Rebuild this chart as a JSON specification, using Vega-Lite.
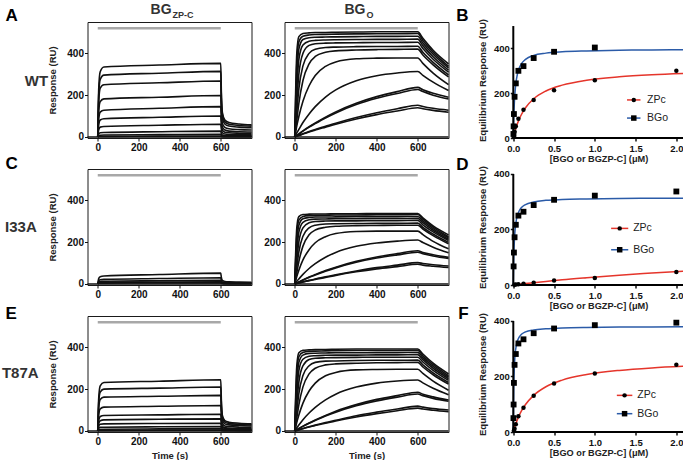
{
"$schema": "https://vega.github.io/schema/vega-lite/v6.json",
"padding": {"left": 0.5, "top": 2, "right": 0, "bottom": 0},
"background": "white",
"config": {
  "font": "Liberation Sans",
  "axis": {"labelFont": "Liberation Sans", "labelFontWeight": "bold", "labelFontSize": 10, "labelColor": "#111", "titleFont": "Liberation Sans", "titleFontWeight": "bold", "titleFontSize": 9.5, "titleColor": "#222", "tickColor": "#111", "domainColor": "#111", "grid": false, "tickSize": 3},
  "text": {"font": "Liberation Sans"}
},
"datasets": {
  "inj": [{"t0": 0, "t1": 600, "y": 520}],
  "base": [{"t0": -50, "t1": 750, "y": 0}],
  "zA": [
{"k":1,"t":0,"r":0},{"k":1,"t":5,"r":235},{"k":1,"t":12,"r":312},{"k":1,"t":30,"r":335},{"k":1,"t":300,"r":344},{"k":1,"t":600,"r":352},{"k":1,"t":603,"r":211},{"k":1,"t":608,"r":116},{"k":1,"t":620,"r":81},{"k":1,"t":640,"r":69},{"k":1,"t":690,"r":62},{"k":1,"t":750,"r":58},
{"k":2,"t":0,"r":0},{"k":2,"t":5,"r":207},{"k":2,"t":12,"r":275},{"k":2,"t":30,"r":296},{"k":2,"t":300,"r":305},{"k":2,"t":600,"r":314},{"k":2,"t":603,"r":188},{"k":2,"t":608,"r":104},{"k":2,"t":620,"r":72},{"k":2,"t":640,"r":61},{"k":2,"t":690,"r":55},{"k":2,"t":750,"r":52},
{"k":3,"t":0,"r":0},{"k":3,"t":5,"r":175},{"k":3,"t":12,"r":233},{"k":3,"t":30,"r":250},{"k":3,"t":300,"r":259},{"k":3,"t":600,"r":268},{"k":3,"t":603,"r":161},{"k":3,"t":608,"r":88},{"k":3,"t":620,"r":62},{"k":3,"t":640,"r":52},{"k":3,"t":690,"r":47},{"k":3,"t":750,"r":44},
{"k":4,"t":0,"r":0},{"k":4,"t":5,"r":127},{"k":4,"t":12,"r":169},{"k":4,"t":30,"r":182},{"k":4,"t":300,"r":190},{"k":4,"t":600,"r":198},{"k":4,"t":603,"r":119},{"k":4,"t":608,"r":65},{"k":4,"t":620,"r":46},{"k":4,"t":640,"r":39},{"k":4,"t":690,"r":35},{"k":4,"t":750,"r":33},
{"k":5,"t":0,"r":0},{"k":5,"t":5,"r":90},{"k":5,"t":12,"r":119},{"k":5,"t":30,"r":128},{"k":5,"t":300,"r":137},{"k":5,"t":600,"r":145},{"k":5,"t":603,"r":87},{"k":5,"t":608,"r":48},{"k":5,"t":620,"r":33},{"k":5,"t":640,"r":28},{"k":5,"t":690,"r":25},{"k":5,"t":750,"r":24},
{"k":6,"t":0,"r":0},{"k":6,"t":5,"r":61},{"k":6,"t":12,"r":81},{"k":6,"t":30,"r":87},{"k":6,"t":300,"r":94},{"k":6,"t":600,"r":100},{"k":6,"t":603,"r":60},{"k":6,"t":608,"r":33},{"k":6,"t":620,"r":23},{"k":6,"t":640,"r":20},{"k":6,"t":690,"r":18},{"k":6,"t":750,"r":17},
{"k":7,"t":0,"r":0},{"k":7,"t":5,"r":35},{"k":7,"t":12,"r":47},{"k":7,"t":30,"r":50},{"k":7,"t":300,"r":56},{"k":7,"t":600,"r":61},{"k":7,"t":603,"r":37},{"k":7,"t":608,"r":20},{"k":7,"t":620,"r":14},{"k":7,"t":640,"r":12},{"k":7,"t":690,"r":11},{"k":7,"t":750,"r":10},
{"k":8,"t":0,"r":0},{"k":8,"t":5,"r":15},{"k":8,"t":12,"r":20},{"k":8,"t":30,"r":21},{"k":8,"t":300,"r":25},{"k":8,"t":600,"r":28},{"k":8,"t":603,"r":17},{"k":8,"t":608,"r":9},{"k":8,"t":620,"r":6},{"k":8,"t":640,"r":5},{"k":8,"t":690,"r":5},{"k":8,"t":750,"r":5},
{"k":9,"t":0,"r":0},{"k":9,"t":5,"r":6},{"k":9,"t":12,"r":8},{"k":9,"t":30,"r":9},{"k":9,"t":300,"r":11},{"k":9,"t":600,"r":13},{"k":9,"t":603,"r":8},{"k":9,"t":608,"r":4},{"k":9,"t":620,"r":3},{"k":9,"t":640,"r":3},{"k":9,"t":690,"r":2},{"k":9,"t":750,"r":2},
{"k":10,"t":0,"r":0},{"k":10,"t":5,"r":2},{"k":10,"t":12,"r":3},{"k":10,"t":30,"r":3},{"k":10,"t":300,"r":4},{"k":10,"t":600,"r":4},{"k":10,"t":603,"r":2},{"k":10,"t":608,"r":1},{"k":10,"t":620,"r":1},{"k":10,"t":640,"r":1},{"k":10,"t":690,"r":1},{"k":10,"t":750,"r":1}
  ],
  "zC": [
{"k":1,"t":0,"r":0},{"k":1,"t":5,"r":27},{"k":1,"t":12,"r":35},{"k":1,"t":30,"r":38},{"k":1,"t":300,"r":45},{"k":1,"t":600,"r":52},{"k":1,"t":603,"r":31},{"k":1,"t":608,"r":17},{"k":1,"t":620,"r":12},{"k":1,"t":640,"r":10},{"k":1,"t":690,"r":9},{"k":1,"t":750,"r":8},
{"k":2,"t":0,"r":0},{"k":2,"t":5,"r":15},{"k":2,"t":12,"r":20},{"k":2,"t":30,"r":22},{"k":2,"t":300,"r":26},{"k":2,"t":600,"r":30},{"k":2,"t":603,"r":18},{"k":2,"t":608,"r":10},{"k":2,"t":620,"r":7},{"k":2,"t":640,"r":6},{"k":2,"t":690,"r":5},{"k":2,"t":750,"r":5},
{"k":3,"t":0,"r":0},{"k":3,"t":5,"r":9},{"k":3,"t":12,"r":12},{"k":3,"t":30,"r":13},{"k":3,"t":300,"r":15},{"k":3,"t":600,"r":17},{"k":3,"t":603,"r":10},{"k":3,"t":608,"r":6},{"k":3,"t":620,"r":4},{"k":3,"t":640,"r":3},{"k":3,"t":690,"r":3},{"k":3,"t":750,"r":3},
{"k":4,"t":0,"r":0},{"k":4,"t":5,"r":6},{"k":4,"t":12,"r":7},{"k":4,"t":30,"r":8},{"k":4,"t":300,"r":9},{"k":4,"t":600,"r":10},{"k":4,"t":603,"r":6},{"k":4,"t":608,"r":3},{"k":4,"t":620,"r":2},{"k":4,"t":640,"r":2},{"k":4,"t":690,"r":2},{"k":4,"t":750,"r":2},
{"k":5,"t":0,"r":0},{"k":5,"t":5,"r":3},{"k":5,"t":12,"r":4},{"k":5,"t":30,"r":4},{"k":5,"t":300,"r":5},{"k":5,"t":600,"r":5},{"k":5,"t":603,"r":3},{"k":5,"t":608,"r":2},{"k":5,"t":620,"r":1},{"k":5,"t":640,"r":1},{"k":5,"t":690,"r":1},{"k":5,"t":750,"r":1}
  ],
  "zE": [
{"k":1,"t":0,"r":0},{"k":1,"t":5,"r":162},{"k":1,"t":12,"r":216},{"k":1,"t":30,"r":232},{"k":1,"t":300,"r":238},{"k":1,"t":600,"r":245},{"k":1,"t":603,"r":147},{"k":1,"t":608,"r":74},{"k":1,"t":620,"r":49},{"k":1,"t":640,"r":42},{"k":1,"t":690,"r":37},{"k":1,"t":750,"r":34},
{"k":2,"t":0,"r":0},{"k":2,"t":5,"r":140},{"k":2,"t":12,"r":186},{"k":2,"t":30,"r":200},{"k":2,"t":300,"r":205},{"k":2,"t":600,"r":210},{"k":2,"t":603,"r":126},{"k":2,"t":608,"r":63},{"k":2,"t":620,"r":42},{"k":2,"t":640,"r":36},{"k":2,"t":690,"r":32},{"k":2,"t":750,"r":29},
{"k":3,"t":0,"r":0},{"k":3,"t":5,"r":113},{"k":3,"t":12,"r":151},{"k":3,"t":30,"r":162},{"k":3,"t":300,"r":166},{"k":3,"t":600,"r":170},{"k":3,"t":603,"r":102},{"k":3,"t":608,"r":51},{"k":3,"t":620,"r":34},{"k":3,"t":640,"r":29},{"k":3,"t":690,"r":26},{"k":3,"t":750,"r":24},
{"k":4,"t":0,"r":0},{"k":4,"t":5,"r":80},{"k":4,"t":12,"r":106},{"k":4,"t":30,"r":114},{"k":4,"t":300,"r":118},{"k":4,"t":600,"r":122},{"k":4,"t":603,"r":73},{"k":4,"t":608,"r":37},{"k":4,"t":620,"r":24},{"k":4,"t":640,"r":21},{"k":4,"t":690,"r":18},{"k":4,"t":750,"r":17},
{"k":5,"t":0,"r":0},{"k":5,"t":5,"r":52},{"k":5,"t":12,"r":69},{"k":5,"t":30,"r":74},{"k":5,"t":300,"r":77},{"k":5,"t":600,"r":80},{"k":5,"t":603,"r":48},{"k":5,"t":608,"r":24},{"k":5,"t":620,"r":16},{"k":5,"t":640,"r":14},{"k":5,"t":690,"r":12},{"k":5,"t":750,"r":11},
{"k":6,"t":0,"r":0},{"k":6,"t":5,"r":37},{"k":6,"t":12,"r":49},{"k":6,"t":30,"r":53},{"k":6,"t":300,"r":56},{"k":6,"t":600,"r":58},{"k":6,"t":603,"r":35},{"k":6,"t":608,"r":17},{"k":6,"t":620,"r":12},{"k":6,"t":640,"r":10},{"k":6,"t":690,"r":9},{"k":6,"t":750,"r":8},
{"k":7,"t":0,"r":0},{"k":7,"t":5,"r":24},{"k":7,"t":12,"r":32},{"k":7,"t":30,"r":34},{"k":7,"t":300,"r":36},{"k":7,"t":600,"r":37},{"k":7,"t":603,"r":22},{"k":7,"t":608,"r":11},{"k":7,"t":620,"r":7},{"k":7,"t":640,"r":6},{"k":7,"t":690,"r":6},{"k":7,"t":750,"r":5},
{"k":8,"t":0,"r":0},{"k":8,"t":5,"r":13},{"k":8,"t":12,"r":17},{"k":8,"t":30,"r":18},{"k":8,"t":300,"r":20},{"k":8,"t":600,"r":21},{"k":8,"t":603,"r":13},{"k":8,"t":608,"r":6},{"k":8,"t":620,"r":4},{"k":8,"t":640,"r":4},{"k":8,"t":690,"r":3},{"k":8,"t":750,"r":3},
{"k":9,"t":0,"r":0},{"k":9,"t":5,"r":6},{"k":9,"t":12,"r":7},{"k":9,"t":30,"r":8},{"k":9,"t":300,"r":10},{"k":9,"t":600,"r":11},{"k":9,"t":603,"r":7},{"k":9,"t":608,"r":3},{"k":9,"t":620,"r":2},{"k":9,"t":640,"r":2},{"k":9,"t":690,"r":2},{"k":9,"t":750,"r":2},
{"k":10,"t":0,"r":0},{"k":10,"t":5,"r":2},{"k":10,"t":12,"r":3},{"k":10,"t":30,"r":3},{"k":10,"t":300,"r":4},{"k":10,"t":600,"r":4},{"k":10,"t":603,"r":2},{"k":10,"t":608,"r":1},{"k":10,"t":620,"r":1},{"k":10,"t":640,"r":1},{"k":10,"t":690,"r":1},{"k":10,"t":750,"r":1}
  ],
  "oA": [
{"k":1,"t":0,"r":0},{"k":1,"t":10,"r":400},{"k":1,"t":20,"r":480},{"k":1,"t":40,"r":495},{"k":1,"t":70,"r":498},{"k":1,"t":100,"r":500},{"k":1,"t":150,"r":500},{"k":1,"t":200,"r":501},{"k":1,"t":300,"r":502},{"k":1,"t":400,"r":503},{"k":1,"t":500,"r":503},{"k":1,"t":600,"r":503},{"k":1,"t":625,"r":472},{"k":1,"t":675,"r":415},{"k":1,"t":750,"r":350},
{"k":2,"t":0,"r":0},{"k":2,"t":10,"r":350},{"k":2,"t":20,"r":455},{"k":2,"t":40,"r":482},{"k":2,"t":70,"r":488},{"k":2,"t":100,"r":490},{"k":2,"t":150,"r":491},{"k":2,"t":200,"r":492},{"k":2,"t":300,"r":493},{"k":2,"t":400,"r":494},{"k":2,"t":500,"r":494},{"k":2,"t":600,"r":495},{"k":2,"t":625,"r":462},{"k":2,"t":675,"r":406},{"k":2,"t":750,"r":338},
{"k":3,"t":0,"r":0},{"k":3,"t":10,"r":290},{"k":3,"t":20,"r":420},{"k":3,"t":40,"r":466},{"k":3,"t":70,"r":475},{"k":3,"t":100,"r":477},{"k":3,"t":150,"r":478},{"k":3,"t":200,"r":479},{"k":3,"t":300,"r":480},{"k":3,"t":400,"r":481},{"k":3,"t":500,"r":481},{"k":3,"t":600,"r":482},{"k":3,"t":625,"r":450},{"k":3,"t":675,"r":396},{"k":3,"t":750,"r":330},
{"k":4,"t":0,"r":0},{"k":4,"t":10,"r":230},{"k":4,"t":20,"r":370},{"k":4,"t":40,"r":440},{"k":4,"t":70,"r":458},{"k":4,"t":100,"r":462},{"k":4,"t":150,"r":464},{"k":4,"t":200,"r":465},{"k":4,"t":300,"r":466},{"k":4,"t":400,"r":467},{"k":4,"t":500,"r":467},{"k":4,"t":600,"r":468},{"k":4,"t":625,"r":437},{"k":4,"t":675,"r":384},{"k":4,"t":750,"r":320},
{"k":5,"t":0,"r":0},{"k":5,"t":10,"r":170},{"k":5,"t":20,"r":300},{"k":5,"t":40,"r":400},{"k":5,"t":70,"r":438},{"k":5,"t":100,"r":446},{"k":5,"t":150,"r":449},{"k":5,"t":200,"r":450},{"k":5,"t":300,"r":451},{"k":5,"t":400,"r":452},{"k":5,"t":500,"r":452},{"k":5,"t":600,"r":453},{"k":5,"t":625,"r":423},{"k":5,"t":675,"r":372},{"k":5,"t":750,"r":310},
{"k":6,"t":0,"r":0},{"k":6,"t":10,"r":120},{"k":6,"t":20,"r":230},{"k":6,"t":40,"r":340},{"k":6,"t":70,"r":400},{"k":6,"t":100,"r":420},{"k":6,"t":150,"r":428},{"k":6,"t":200,"r":430},{"k":6,"t":300,"r":432},{"k":6,"t":400,"r":433},{"k":6,"t":500,"r":433},{"k":6,"t":600,"r":434},{"k":6,"t":625,"r":405},{"k":6,"t":675,"r":357},{"k":6,"t":750,"r":297},
{"k":7,"t":0,"r":0},{"k":7,"t":10,"r":80},{"k":7,"t":20,"r":160},{"k":7,"t":40,"r":270},{"k":7,"t":70,"r":350},{"k":7,"t":100,"r":385},{"k":7,"t":150,"r":405},{"k":7,"t":200,"r":412},{"k":7,"t":300,"r":416},{"k":7,"t":400,"r":418},{"k":7,"t":500,"r":419},{"k":7,"t":600,"r":420},{"k":7,"t":625,"r":392},{"k":7,"t":675,"r":345},{"k":7,"t":750,"r":287},
{"k":8,"t":0,"r":0},{"k":8,"t":10,"r":53},{"k":8,"t":20,"r":98},{"k":8,"t":40,"r":171},{"k":8,"t":70,"r":245},{"k":8,"t":100,"r":294},{"k":8,"t":150,"r":338},{"k":8,"t":200,"r":359},{"k":8,"t":300,"r":374},{"k":8,"t":400,"r":377},{"k":8,"t":500,"r":378},{"k":8,"t":600,"r":378},{"k":8,"t":625,"r":352},{"k":8,"t":675,"r":305},{"k":8,"t":750,"r":250},
{"k":9,"t":0,"r":0},{"k":9,"t":10,"r":19},{"k":9,"t":20,"r":36},{"k":9,"t":40,"r":69},{"k":9,"t":70,"r":110},{"k":9,"t":100,"r":145},{"k":9,"t":150,"r":191},{"k":9,"t":200,"r":225},{"k":9,"t":300,"r":269},{"k":9,"t":400,"r":293},{"k":9,"t":500,"r":306},{"k":9,"t":600,"r":313},{"k":9,"t":625,"r":295},{"k":9,"t":675,"r":262},{"k":9,"t":750,"r":222},
{"k":10,"t":0,"r":0},{"k":10,"t":10,"r":8},{"k":10,"t":20,"r":15},{"k":10,"t":40,"r":29},{"k":10,"t":70,"r":49},{"k":10,"t":100,"r":67},{"k":10,"t":150,"r":95},{"k":10,"t":200,"r":120},{"k":10,"t":300,"r":161},{"k":10,"t":400,"r":193},{"k":10,"t":500,"r":217},{"k":10,"t":600,"r":237},{"k":10,"t":625,"r":226},{"k":10,"t":675,"r":209},{"k":10,"t":750,"r":190},
{"k":11,"t":0,"r":0},{"k":11,"t":10,"r":7},{"k":11,"t":20,"r":14},{"k":11,"t":40,"r":28},{"k":11,"t":70,"r":47},{"k":11,"t":100,"r":64},{"k":11,"t":150,"r":91},{"k":11,"t":200,"r":115},{"k":11,"t":300,"r":155},{"k":11,"t":400,"r":185},{"k":11,"t":500,"r":208},{"k":11,"t":600,"r":227},{"k":11,"t":625,"r":217},{"k":11,"t":675,"r":200},{"k":11,"t":750,"r":182},
{"k":12,"t":0,"r":0},{"k":12,"t":10,"r":4},{"k":12,"t":20,"r":8},{"k":12,"t":40,"r":15},{"k":12,"t":70,"r":26},{"k":12,"t":100,"r":36},{"k":12,"t":150,"r":51},{"k":12,"t":200,"r":66},{"k":12,"t":300,"r":93},{"k":12,"t":400,"r":116},{"k":12,"t":500,"r":135},{"k":12,"t":600,"r":152},{"k":12,"t":625,"r":146},{"k":12,"t":675,"r":137},{"k":12,"t":750,"r":128},
{"k":13,"t":0,"r":0},{"k":13,"t":10,"r":3},{"k":13,"t":20,"r":7},{"k":13,"t":40,"r":14},{"k":13,"t":70,"r":24},{"k":13,"t":100,"r":33},{"k":13,"t":150,"r":47},{"k":13,"t":200,"r":61},{"k":13,"t":300,"r":86},{"k":13,"t":400,"r":107},{"k":13,"t":500,"r":124},{"k":13,"t":600,"r":140},{"k":13,"t":625,"r":135},{"k":13,"t":675,"r":127},{"k":13,"t":750,"r":118}
  ],
  "oC": [
{"k":1,"t":0,"r":0},{"k":1,"t":10,"r":268},{"k":1,"t":20,"r":322},{"k":1,"t":40,"r":332},{"k":1,"t":70,"r":334},{"k":1,"t":100,"r":335},{"k":1,"t":150,"r":335},{"k":1,"t":200,"r":336},{"k":1,"t":300,"r":336},{"k":1,"t":400,"r":337},{"k":1,"t":500,"r":337},{"k":1,"t":600,"r":337},{"k":1,"t":625,"r":316},{"k":1,"t":675,"r":278},{"k":1,"t":750,"r":235},
{"k":2,"t":0,"r":0},{"k":2,"t":10,"r":235},{"k":2,"t":20,"r":305},{"k":2,"t":40,"r":323},{"k":2,"t":70,"r":327},{"k":2,"t":100,"r":328},{"k":2,"t":150,"r":329},{"k":2,"t":200,"r":330},{"k":2,"t":300,"r":330},{"k":2,"t":400,"r":331},{"k":2,"t":500,"r":331},{"k":2,"t":600,"r":332},{"k":2,"t":625,"r":310},{"k":2,"t":675,"r":272},{"k":2,"t":750,"r":226},
{"k":3,"t":0,"r":0},{"k":3,"t":10,"r":194},{"k":3,"t":20,"r":281},{"k":3,"t":40,"r":312},{"k":3,"t":70,"r":318},{"k":3,"t":100,"r":320},{"k":3,"t":150,"r":320},{"k":3,"t":200,"r":321},{"k":3,"t":300,"r":322},{"k":3,"t":400,"r":322},{"k":3,"t":500,"r":322},{"k":3,"t":600,"r":323},{"k":3,"t":625,"r":302},{"k":3,"t":675,"r":265},{"k":3,"t":750,"r":221},
{"k":4,"t":0,"r":0},{"k":4,"t":10,"r":154},{"k":4,"t":20,"r":248},{"k":4,"t":40,"r":295},{"k":4,"t":70,"r":307},{"k":4,"t":100,"r":310},{"k":4,"t":150,"r":311},{"k":4,"t":200,"r":312},{"k":4,"t":300,"r":312},{"k":4,"t":400,"r":313},{"k":4,"t":500,"r":313},{"k":4,"t":600,"r":314},{"k":4,"t":625,"r":293},{"k":4,"t":675,"r":257},{"k":4,"t":750,"r":214},
{"k":5,"t":0,"r":0},{"k":5,"t":10,"r":114},{"k":5,"t":20,"r":201},{"k":5,"t":40,"r":268},{"k":5,"t":70,"r":293},{"k":5,"t":100,"r":299},{"k":5,"t":150,"r":301},{"k":5,"t":200,"r":302},{"k":5,"t":300,"r":302},{"k":5,"t":400,"r":303},{"k":5,"t":500,"r":303},{"k":5,"t":600,"r":304},{"k":5,"t":625,"r":283},{"k":5,"t":675,"r":249},{"k":5,"t":750,"r":208},
{"k":6,"t":0,"r":0},{"k":6,"t":10,"r":80},{"k":6,"t":20,"r":154},{"k":6,"t":40,"r":228},{"k":6,"t":70,"r":268},{"k":6,"t":100,"r":281},{"k":6,"t":150,"r":287},{"k":6,"t":200,"r":288},{"k":6,"t":300,"r":289},{"k":6,"t":400,"r":290},{"k":6,"t":500,"r":290},{"k":6,"t":600,"r":291},{"k":6,"t":625,"r":271},{"k":6,"t":675,"r":239},{"k":6,"t":750,"r":199},
{"k":7,"t":0,"r":0},{"k":7,"t":10,"r":54},{"k":7,"t":20,"r":107},{"k":7,"t":40,"r":181},{"k":7,"t":70,"r":235},{"k":7,"t":100,"r":258},{"k":7,"t":150,"r":271},{"k":7,"t":200,"r":276},{"k":7,"t":300,"r":279},{"k":7,"t":400,"r":280},{"k":7,"t":500,"r":281},{"k":7,"t":600,"r":281},{"k":7,"t":625,"r":263},{"k":7,"t":675,"r":231},{"k":7,"t":750,"r":192},
{"k":8,"t":0,"r":0},{"k":8,"t":10,"r":36},{"k":8,"t":20,"r":66},{"k":8,"t":40,"r":115},{"k":8,"t":70,"r":164},{"k":8,"t":100,"r":197},{"k":8,"t":150,"r":226},{"k":8,"t":200,"r":241},{"k":8,"t":300,"r":251},{"k":8,"t":400,"r":253},{"k":8,"t":500,"r":253},{"k":8,"t":600,"r":253},{"k":8,"t":625,"r":236},{"k":8,"t":675,"r":204},{"k":8,"t":750,"r":168},
{"k":9,"t":0,"r":0},{"k":9,"t":10,"r":13},{"k":9,"t":20,"r":24},{"k":9,"t":40,"r":46},{"k":9,"t":70,"r":74},{"k":9,"t":100,"r":97},{"k":9,"t":150,"r":128},{"k":9,"t":200,"r":151},{"k":9,"t":300,"r":180},{"k":9,"t":400,"r":196},{"k":9,"t":500,"r":205},{"k":9,"t":600,"r":210},{"k":9,"t":625,"r":198},{"k":9,"t":675,"r":176},{"k":9,"t":750,"r":149},
{"k":10,"t":0,"r":0},{"k":10,"t":10,"r":5},{"k":10,"t":20,"r":10},{"k":10,"t":40,"r":19},{"k":10,"t":70,"r":33},{"k":10,"t":100,"r":45},{"k":10,"t":150,"r":64},{"k":10,"t":200,"r":80},{"k":10,"t":300,"r":108},{"k":10,"t":400,"r":129},{"k":10,"t":500,"r":145},{"k":10,"t":600,"r":159},{"k":10,"t":625,"r":151},{"k":10,"t":675,"r":140},{"k":10,"t":750,"r":127},
{"k":11,"t":0,"r":0},{"k":11,"t":10,"r":5},{"k":11,"t":20,"r":9},{"k":11,"t":40,"r":19},{"k":11,"t":70,"r":31},{"k":11,"t":100,"r":43},{"k":11,"t":150,"r":61},{"k":11,"t":200,"r":77},{"k":11,"t":300,"r":104},{"k":11,"t":400,"r":124},{"k":11,"t":500,"r":139},{"k":11,"t":600,"r":152},{"k":11,"t":625,"r":145},{"k":11,"t":675,"r":134},{"k":11,"t":750,"r":122},
{"k":12,"t":0,"r":0},{"k":12,"t":10,"r":3},{"k":12,"t":20,"r":5},{"k":12,"t":40,"r":10},{"k":12,"t":70,"r":17},{"k":12,"t":100,"r":24},{"k":12,"t":150,"r":34},{"k":12,"t":200,"r":44},{"k":12,"t":300,"r":62},{"k":12,"t":400,"r":78},{"k":12,"t":500,"r":90},{"k":12,"t":600,"r":102},{"k":12,"t":625,"r":98},{"k":12,"t":675,"r":92},{"k":12,"t":750,"r":86},
{"k":13,"t":0,"r":0},{"k":13,"t":10,"r":2},{"k":13,"t":20,"r":5},{"k":13,"t":40,"r":9},{"k":13,"t":70,"r":16},{"k":13,"t":100,"r":22},{"k":13,"t":150,"r":31},{"k":13,"t":200,"r":41},{"k":13,"t":300,"r":58},{"k":13,"t":400,"r":72},{"k":13,"t":500,"r":83},{"k":13,"t":600,"r":94},{"k":13,"t":625,"r":90},{"k":13,"t":675,"r":85},{"k":13,"t":750,"r":79}
  ],
  "oE": [
{"k":1,"t":0,"r":0},{"k":1,"t":10,"r":312},{"k":1,"t":20,"r":374},{"k":1,"t":40,"r":386},{"k":1,"t":70,"r":388},{"k":1,"t":100,"r":390},{"k":1,"t":150,"r":390},{"k":1,"t":200,"r":391},{"k":1,"t":300,"r":392},{"k":1,"t":400,"r":392},{"k":1,"t":500,"r":392},{"k":1,"t":600,"r":392},{"k":1,"t":625,"r":368},{"k":1,"t":675,"r":324},{"k":1,"t":750,"r":273},
{"k":2,"t":0,"r":0},{"k":2,"t":10,"r":273},{"k":2,"t":20,"r":355},{"k":2,"t":40,"r":376},{"k":2,"t":70,"r":381},{"k":2,"t":100,"r":382},{"k":2,"t":150,"r":383},{"k":2,"t":200,"r":384},{"k":2,"t":300,"r":385},{"k":2,"t":400,"r":385},{"k":2,"t":500,"r":385},{"k":2,"t":600,"r":386},{"k":2,"t":625,"r":360},{"k":2,"t":675,"r":317},{"k":2,"t":750,"r":264},
{"k":3,"t":0,"r":0},{"k":3,"t":10,"r":226},{"k":3,"t":20,"r":328},{"k":3,"t":40,"r":363},{"k":3,"t":70,"r":371},{"k":3,"t":100,"r":372},{"k":3,"t":150,"r":373},{"k":3,"t":200,"r":374},{"k":3,"t":300,"r":374},{"k":3,"t":400,"r":375},{"k":3,"t":500,"r":375},{"k":3,"t":600,"r":376},{"k":3,"t":625,"r":351},{"k":3,"t":675,"r":309},{"k":3,"t":750,"r":257},
{"k":4,"t":0,"r":0},{"k":4,"t":10,"r":179},{"k":4,"t":20,"r":289},{"k":4,"t":40,"r":343},{"k":4,"t":70,"r":357},{"k":4,"t":100,"r":360},{"k":4,"t":150,"r":362},{"k":4,"t":200,"r":363},{"k":4,"t":300,"r":363},{"k":4,"t":400,"r":364},{"k":4,"t":500,"r":364},{"k":4,"t":600,"r":365},{"k":4,"t":625,"r":341},{"k":4,"t":675,"r":300},{"k":4,"t":750,"r":250},
{"k":5,"t":0,"r":0},{"k":5,"t":10,"r":133},{"k":5,"t":20,"r":234},{"k":5,"t":40,"r":312},{"k":5,"t":70,"r":342},{"k":5,"t":100,"r":348},{"k":5,"t":150,"r":350},{"k":5,"t":200,"r":351},{"k":5,"t":300,"r":352},{"k":5,"t":400,"r":353},{"k":5,"t":500,"r":353},{"k":5,"t":600,"r":353},{"k":5,"t":625,"r":330},{"k":5,"t":675,"r":290},{"k":5,"t":750,"r":242},
{"k":6,"t":0,"r":0},{"k":6,"t":10,"r":94},{"k":6,"t":20,"r":179},{"k":6,"t":40,"r":265},{"k":6,"t":70,"r":312},{"k":6,"t":100,"r":328},{"k":6,"t":150,"r":334},{"k":6,"t":200,"r":335},{"k":6,"t":300,"r":337},{"k":6,"t":400,"r":338},{"k":6,"t":500,"r":338},{"k":6,"t":600,"r":339},{"k":6,"t":625,"r":316},{"k":6,"t":675,"r":278},{"k":6,"t":750,"r":232},
{"k":7,"t":0,"r":0},{"k":7,"t":10,"r":62},{"k":7,"t":20,"r":125},{"k":7,"t":40,"r":211},{"k":7,"t":70,"r":273},{"k":7,"t":100,"r":300},{"k":7,"t":150,"r":316},{"k":7,"t":200,"r":321},{"k":7,"t":300,"r":324},{"k":7,"t":400,"r":326},{"k":7,"t":500,"r":327},{"k":7,"t":600,"r":328},{"k":7,"t":625,"r":306},{"k":7,"t":675,"r":269},{"k":7,"t":750,"r":224},
{"k":8,"t":0,"r":0},{"k":8,"t":10,"r":41},{"k":8,"t":20,"r":76},{"k":8,"t":40,"r":133},{"k":8,"t":70,"r":191},{"k":8,"t":100,"r":229},{"k":8,"t":150,"r":264},{"k":8,"t":200,"r":280},{"k":8,"t":300,"r":292},{"k":8,"t":400,"r":294},{"k":8,"t":500,"r":295},{"k":8,"t":600,"r":295},{"k":8,"t":625,"r":275},{"k":8,"t":675,"r":238},{"k":8,"t":750,"r":195},
{"k":9,"t":0,"r":0},{"k":9,"t":10,"r":15},{"k":9,"t":20,"r":28},{"k":9,"t":40,"r":54},{"k":9,"t":70,"r":86},{"k":9,"t":100,"r":113},{"k":9,"t":150,"r":149},{"k":9,"t":200,"r":176},{"k":9,"t":300,"r":210},{"k":9,"t":400,"r":229},{"k":9,"t":500,"r":239},{"k":9,"t":600,"r":244},{"k":9,"t":625,"r":230},{"k":9,"t":675,"r":204},{"k":9,"t":750,"r":173},
{"k":10,"t":0,"r":0},{"k":10,"t":10,"r":6},{"k":10,"t":20,"r":12},{"k":10,"t":40,"r":23},{"k":10,"t":70,"r":38},{"k":10,"t":100,"r":52},{"k":10,"t":150,"r":74},{"k":10,"t":200,"r":94},{"k":10,"t":300,"r":126},{"k":10,"t":400,"r":151},{"k":10,"t":500,"r":169},{"k":10,"t":600,"r":185},{"k":10,"t":625,"r":176},{"k":10,"t":675,"r":163},{"k":10,"t":750,"r":148},
{"k":11,"t":0,"r":0},{"k":11,"t":10,"r":5},{"k":11,"t":20,"r":11},{"k":11,"t":40,"r":22},{"k":11,"t":70,"r":37},{"k":11,"t":100,"r":50},{"k":11,"t":150,"r":71},{"k":11,"t":200,"r":90},{"k":11,"t":300,"r":121},{"k":11,"t":400,"r":144},{"k":11,"t":500,"r":162},{"k":11,"t":600,"r":177},{"k":11,"t":625,"r":169},{"k":11,"t":675,"r":156},{"k":11,"t":750,"r":142},
{"k":12,"t":0,"r":0},{"k":12,"t":10,"r":3},{"k":12,"t":20,"r":6},{"k":12,"t":40,"r":12},{"k":12,"t":70,"r":20},{"k":12,"t":100,"r":28},{"k":12,"t":150,"r":40},{"k":12,"t":200,"r":51},{"k":12,"t":300,"r":73},{"k":12,"t":400,"r":90},{"k":12,"t":500,"r":105},{"k":12,"t":600,"r":119},{"k":12,"t":625,"r":114},{"k":12,"t":675,"r":107},{"k":12,"t":750,"r":100},
{"k":13,"t":0,"r":0},{"k":13,"t":10,"r":2},{"k":13,"t":20,"r":5},{"k":13,"t":40,"r":11},{"k":13,"t":70,"r":19},{"k":13,"t":100,"r":26},{"k":13,"t":150,"r":37},{"k":13,"t":200,"r":48},{"k":13,"t":300,"r":67},{"k":13,"t":400,"r":83},{"k":13,"t":500,"r":97},{"k":13,"t":600,"r":109},{"k":13,"t":625,"r":105},{"k":13,"t":675,"r":99},{"k":13,"t":750,"r":92}
  ],
  "pts": [
{"p":"B","s":"BGo","x":0.00195,"y":18},{"p":"B","s":"BGo","x":0.0039,"y":52},{"p":"B","s":"BGo","x":0.0078,"y":107},{"p":"B","s":"BGo","x":0.0156,"y":184},{"p":"B","s":"BGo","x":0.031,"y":244},{"p":"B","s":"BGo","x":0.0625,"y":300},{"p":"B","s":"BGo","x":0.125,"y":321},{"p":"B","s":"BGo","x":0.25,"y":357},{"p":"B","s":"BGo","x":0.5,"y":385},{"p":"B","s":"BGo","x":1,"y":404},
{"p":"B","s":"ZPc","x":0.0039,"y":6},{"p":"B","s":"ZPc","x":0.0078,"y":13},{"p":"B","s":"ZPc","x":0.0156,"y":28},{"p":"B","s":"ZPc","x":0.031,"y":52},{"p":"B","s":"ZPc","x":0.0625,"y":86},{"p":"B","s":"ZPc","x":0.125,"y":126},{"p":"B","s":"ZPc","x":0.25,"y":170},{"p":"B","s":"ZPc","x":0.5,"y":213},{"p":"B","s":"ZPc","x":1,"y":258},{"p":"B","s":"ZPc","x":2,"y":300},
{"p":"D","s":"BGo","x":0.0039,"y":67},{"p":"D","s":"BGo","x":0.0078,"y":117},{"p":"D","s":"BGo","x":0.0156,"y":172},{"p":"D","s":"BGo","x":0.031,"y":217},{"p":"D","s":"BGo","x":0.0625,"y":250},{"p":"D","s":"BGo","x":0.125,"y":264},{"p":"D","s":"BGo","x":0.25,"y":288},{"p":"D","s":"BGo","x":0.5,"y":307},{"p":"D","s":"BGo","x":1,"y":322},{"p":"D","s":"BGo","x":2,"y":337},
{"p":"D","s":"ZPc","x":0.0156,"y":1},{"p":"D","s":"ZPc","x":0.031,"y":2},{"p":"D","s":"ZPc","x":0.0625,"y":3},{"p":"D","s":"ZPc","x":0.125,"y":5},{"p":"D","s":"ZPc","x":0.25,"y":8},{"p":"D","s":"ZPc","x":0.5,"y":16},{"p":"D","s":"ZPc","x":1,"y":25},{"p":"D","s":"ZPc","x":2,"y":47},
{"p":"F","s":"BGo","x":0.00195,"y":50},{"p":"F","s":"BGo","x":0.0039,"y":99},{"p":"F","s":"BGo","x":0.0078,"y":177},{"p":"F","s":"BGo","x":0.0156,"y":242},{"p":"F","s":"BGo","x":0.031,"y":281},{"p":"F","s":"BGo","x":0.0625,"y":319},{"p":"F","s":"BGo","x":0.125,"y":334},{"p":"F","s":"BGo","x":0.25,"y":356},{"p":"F","s":"BGo","x":0.5,"y":373},{"p":"F","s":"BGo","x":1,"y":385},{"p":"F","s":"BGo","x":2,"y":394},
{"p":"F","s":"ZPc","x":0.0078,"y":5},{"p":"F","s":"ZPc","x":0.0156,"y":12},{"p":"F","s":"ZPc","x":0.031,"y":28},{"p":"F","s":"ZPc","x":0.0625,"y":57},{"p":"F","s":"ZPc","x":0.125,"y":87},{"p":"F","s":"ZPc","x":0.25,"y":131},{"p":"F","s":"ZPc","x":0.5,"y":175},{"p":"F","s":"ZPc","x":1,"y":211},{"p":"F","s":"ZPc","x":2,"y":242}
  ],
  "fit": [
{"p":"B","s":"BGo","x":0,"y":0},{"p":"B","s":"BGo","x":0.005,"y":80},{"p":"B","s":"BGo","x":0.01,"y":133},{"p":"B","s":"BGo","x":0.02,"y":199},{"p":"B","s":"BGo","x":0.04,"y":265},{"p":"B","s":"BGo","x":0.07,"y":310},{"p":"B","s":"BGo","x":0.1,"y":332},{"p":"B","s":"BGo","x":0.15,"y":351},{"p":"B","s":"BGo","x":0.25,"y":369},{"p":"B","s":"BGo","x":0.4,"y":379},{"p":"B","s":"BGo","x":0.6,"y":385},{"p":"B","s":"BGo","x":0.9,"y":389},{"p":"B","s":"BGo","x":1.3,"y":392},{"p":"B","s":"BGo","x":1.7,"y":393},{"p":"B","s":"BGo","x":2.1,"y":394},
{"p":"B","s":"ZPc","x":0,"y":0},{"p":"B","s":"ZPc","x":0.005,"y":8},{"p":"B","s":"ZPc","x":0.01,"y":15},{"p":"B","s":"ZPc","x":0.02,"y":29},{"p":"B","s":"ZPc","x":0.04,"y":53},{"p":"B","s":"ZPc","x":0.07,"y":82},{"p":"B","s":"ZPc","x":0.1,"y":105},{"p":"B","s":"ZPc","x":0.15,"y":135},{"p":"B","s":"ZPc","x":0.25,"y":175},{"p":"B","s":"ZPc","x":0.4,"y":210},{"p":"B","s":"ZPc","x":0.6,"y":236},{"p":"B","s":"ZPc","x":0.9,"y":258},{"p":"B","s":"ZPc","x":1.3,"y":273},{"p":"B","s":"ZPc","x":1.7,"y":282},{"p":"B","s":"ZPc","x":2.1,"y":288},
{"p":"D","s":"BGo","x":0,"y":0},{"p":"D","s":"BGo","x":0.005,"y":88},{"p":"D","s":"BGo","x":0.01,"y":137},{"p":"D","s":"BGo","x":0.02,"y":191},{"p":"D","s":"BGo","x":0.04,"y":238},{"p":"D","s":"BGo","x":0.07,"y":266},{"p":"D","s":"BGo","x":0.1,"y":279},{"p":"D","s":"BGo","x":0.15,"y":290},{"p":"D","s":"BGo","x":0.25,"y":299},{"p":"D","s":"BGo","x":0.4,"y":305},{"p":"D","s":"BGo","x":0.6,"y":308},{"p":"D","s":"BGo","x":0.9,"y":310},{"p":"D","s":"BGo","x":1.3,"y":312},{"p":"D","s":"BGo","x":1.7,"y":313},{"p":"D","s":"BGo","x":2.1,"y":313},
{"p":"D","s":"ZPc","x":0,"y":0},{"p":"D","s":"ZPc","x":0.005,"y":0.2},{"p":"D","s":"ZPc","x":0.01,"y":0.4},{"p":"D","s":"ZPc","x":0.02,"y":0.7},{"p":"D","s":"ZPc","x":0.04,"y":1.4},{"p":"D","s":"ZPc","x":0.07,"y":2.5},{"p":"D","s":"ZPc","x":0.1,"y":3.5},{"p":"D","s":"ZPc","x":0.15,"y":5.2},{"p":"D","s":"ZPc","x":0.25,"y":8.4},{"p":"D","s":"ZPc","x":0.4,"y":13},{"p":"D","s":"ZPc","x":0.6,"y":19},{"p":"D","s":"ZPc","x":0.9,"y":26.5},{"p":"D","s":"ZPc","x":1.3,"y":35.5},{"p":"D","s":"ZPc","x":1.7,"y":43},{"p":"D","s":"ZPc","x":2.1,"y":50},
{"p":"F","s":"BGo","x":0,"y":0},{"p":"F","s":"BGo","x":0.005,"y":146},{"p":"F","s":"BGo","x":0.01,"y":211},{"p":"F","s":"BGo","x":0.02,"y":271},{"p":"F","s":"BGo","x":0.04,"y":317},{"p":"F","s":"BGo","x":0.07,"y":341},{"p":"F","s":"BGo","x":0.1,"y":352},{"p":"F","s":"BGo","x":0.15,"y":361},{"p":"F","s":"BGo","x":0.25,"y":368},{"p":"F","s":"BGo","x":0.4,"y":372},{"p":"F","s":"BGo","x":0.6,"y":375},{"p":"F","s":"BGo","x":0.9,"y":377},{"p":"F","s":"BGo","x":1.3,"y":378},{"p":"F","s":"BGo","x":1.7,"y":378},{"p":"F","s":"BGo","x":2.1,"y":379},
{"p":"F","s":"ZPc","x":0,"y":0},{"p":"F","s":"ZPc","x":0.005,"y":5},{"p":"F","s":"ZPc","x":0.01,"y":10},{"p":"F","s":"ZPc","x":0.02,"y":20},{"p":"F","s":"ZPc","x":0.04,"y":37},{"p":"F","s":"ZPc","x":0.07,"y":58},{"p":"F","s":"ZPc","x":0.1,"y":76},{"p":"F","s":"ZPc","x":0.15,"y":99},{"p":"F","s":"ZPc","x":0.25,"y":132},{"p":"F","s":"ZPc","x":0.4,"y":163},{"p":"F","s":"ZPc","x":0.6,"y":187},{"p":"F","s":"ZPc","x":0.9,"y":207},{"p":"F","s":"ZPc","x":1.3,"y":222},{"p":"F","s":"ZPc","x":1.7,"y":231},{"p":"F","s":"ZPc","x":2.1,"y":237}
  ]
},
"columns": 3,
"spacing": {"row": 31, "column": 33},
"bounds": "flush",
"concat": [
   {"width": 164, "height": 116, "view": {"stroke": "#1a1a1a", "strokeWidth": 1},
    "layer": [
     {"data": {"name": "inj"}, "mark": {"type": "rule", "color": "#a8a8a8", "strokeWidth": 2.5},
      "encoding": {"x": {"field": "t0", "type": "quantitative", "scale": {"domain": [-50, 750], "nice": false, "zero": false}, "axis": {"values": [0,100,200,300,400,500,600,700], "labelExpr": "datum.value % 200 === 0 ? datum.label : ''", "labelOverlap": false, "labelFlush": false, "domain": false, "title": null, "labelPadding": 1}},
       "x2": {"field": "t1"},
       "y": {"field": "y", "type": "quantitative", "scale": {"domain": [-5, 550], "nice": false, "zero": false}, "axis": {"values": [0,100,200,300,400,500], "labelExpr": "datum.value % 200 === 0 ? datum.label : ''", "labelOverlap": false, "domain": false, "title": "Response (RU)", "titlePadding": 9, "labelPadding": 1}}}},
     {"data": {"name": "base"}, "mark": {"type": "rule", "color": "#111", "strokeWidth": 1.6}, "encoding": {"x": {"field": "t0", "type": "quantitative"}, "x2": {"field": "t1"}, "y": {"field": "y", "type": "quantitative"}}},
     {"data": {"name": "zA"}, "mark": {"type": "line", "color": "#111", "strokeWidth": 1.6, "interpolate": "monotone"}, "encoding": {"x": {"field": "t", "type": "quantitative"}, "y": {"field": "r", "type": "quantitative"}, "detail": {"field": "k", "type": "nominal"}}},
     {"data": {"values": [{}]}, "mark": {"type": "text", "text": "A", "fontSize": 17, "fontWeight": "bold", "align": "left", "baseline": "alphabetic", "color": "#000"}, "encoding": {"x": {"datum": -450, "type": "quantitative"}, "y": {"datum": 555, "type": "quantitative"}}},
     {"data": {"values": [{}]}, "mark": {"type": "text", "text": "WT", "fontSize": 15, "fontWeight": "bold", "align": "center", "baseline": "alphabetic", "color": "#333"}, "encoding": {"x": {"datum": -299, "type": "quantitative"}, "y": {"datum": 244, "type": "quantitative"}}},
     {"data": {"values": [{}]}, "mark": {"type": "text", "text": "BG", "fontSize": 14, "fontWeight": "bold", "align": "right", "baseline": "alphabetic", "color": "#333"}, "encoding": {"x": {"datum": 360, "type": "quantitative"}, "y": {"datum": 588, "type": "quantitative"}}},
     {"data": {"values": [{}]}, "mark": {"type": "text", "text": "ZP-C", "fontSize": 9, "fontWeight": "bold", "align": "left", "baseline": "alphabetic", "color": "#333"}, "encoding": {"x": {"datum": 365, "type": "quantitative"}, "y": {"datum": 569, "type": "quantitative"}}}
    ]},
   {"width": 164, "height": 116, "view": {"stroke": "#1a1a1a", "strokeWidth": 1},
    "layer": [
     {"data": {"name": "inj"}, "mark": {"type": "rule", "color": "#a8a8a8", "strokeWidth": 2.5},
      "encoding": {"x": {"field": "t0", "type": "quantitative", "scale": {"domain": [-50, 750], "nice": false, "zero": false}, "axis": {"values": [0,100,200,300,400,500,600,700], "labelExpr": "datum.value % 200 === 0 ? datum.label : ''", "labelOverlap": false, "labelFlush": false, "domain": false, "title": null, "labelPadding": 1}},
       "x2": {"field": "t1"},
       "y": {"field": "y", "type": "quantitative", "scale": {"domain": [-5, 550], "nice": false, "zero": false}, "axis": {"values": [0,100,200,300,400,500], "labelExpr": "datum.value % 200 === 0 ? datum.label : ''", "labelOverlap": false, "domain": false, "title": null, "labelPadding": 1}}}},
     {"data": {"name": "base"}, "mark": {"type": "rule", "color": "#111", "strokeWidth": 1.6}, "encoding": {"x": {"field": "t0", "type": "quantitative"}, "x2": {"field": "t1"}, "y": {"field": "y", "type": "quantitative"}}},
     {"data": {"name": "oA"}, "mark": {"type": "line", "color": "#111", "strokeWidth": 1.6, "interpolate": "monotone"}, "encoding": {"x": {"field": "t", "type": "quantitative"}, "y": {"field": "r", "type": "quantitative"}, "detail": {"field": "k", "type": "nominal"}}},
     {"data": {"values": [{}]}, "mark": {"type": "text", "text": "BG", "fontSize": 14, "fontWeight": "bold", "align": "right", "baseline": "alphabetic", "color": "#333"}, "encoding": {"x": {"datum": 345, "type": "quantitative"}, "y": {"datum": 588, "type": "quantitative"}}},
     {"data": {"values": [{}]}, "mark": {"type": "text", "text": "O", "fontSize": 9, "fontWeight": "bold", "align": "left", "baseline": "alphabetic", "color": "#333"}, "encoding": {"x": {"datum": 350, "type": "quantitative"}, "y": {"datum": 569, "type": "quantitative"}}}
    ]},
  {"width": 203, "height": 116, "view": {"stroke": null},
   "layer": [
    {"data": {"name": "fit"}, "transform": [{"filter": "datum.p === 'B'"}], "mark": {"type": "line", "strokeWidth": 1.5, "interpolate": "monotone"},
     "encoding": {"x": {"field": "x", "type": "quantitative", "scale": {"domain": [-0.39, 2.1], "nice": false, "zero": false}, "axis": {"values": [0,0.25,0.5,0.75,1,1.25,1.5,1.75,2], "labelExpr": "datum.value % 0.5 === 0 ? format(datum.value, '.1f') : ''", "labelOverlap": false, "labelFlush": false, "domain": false, "title": "[BGO or BGZP-C] (μM)", "titleX": 117, "titlePadding": 2, "titleFontSize": 9.2, "tickWidth": 1.5, "labelPadding": 2, "labelFontSize": 9.5}},
      "y": {"field": "y", "type": "quantitative", "scale": {"domain": [0, 518], "nice": false, "zero": false}, "axis": {"values": [0,100,200,300,400,500], "labelExpr": "datum.value % 200 === 0 ? datum.label : ''", "labelOverlap": false, "domain": false, "offset": -31.8, "title": "Equilibrium Response (RU)", "titlePadding": 6, "tickWidth": 1.5, "labelPadding": 1, "labelFontSize": 9.5}},
      "color": {"field": "s", "type": "nominal", "scale": {"domain": ["ZPc", "BGo"], "range": ["#e5352b", "#2b5ba8"]}, "legend": null}}},
    {"data": {"values": [{}]}, "mark": {"type": "rule", "color": "#000", "strokeWidth": 2}, "encoding": {"x": {"datum": 0, "type": "quantitative"}, "y": {"datum": 0, "type": "quantitative"}, "y2": {"datum": 500}}},
    {"data": {"values": [{}]}, "mark": {"type": "rule", "color": "#000", "strokeWidth": 2}, "encoding": {"x": {"datum": 0, "type": "quantitative"}, "x2": {"datum": 2.1}, "y": {"datum": 0, "type": "quantitative"}}},
    {"data": {"name": "pts"}, "transform": [{"filter": "datum.p === 'B'"}], "mark": {"type": "point", "filled": true, "color": "#000", "opacity": 1},
     "encoding": {"x": {"field": "x", "type": "quantitative"}, "y": {"field": "y", "type": "quantitative"},
      "shape": {"field": "s", "type": "nominal", "scale": {"domain": ["ZPc", "BGo"], "range": ["circle", "square"]}, "legend": null},
      "size": {"field": "s", "type": "nominal", "scale": {"domain": ["ZPc", "BGo"], "range": [20, 34]}, "legend": null}}},
    {"data": {"values": [{}]}, "mark": {"type": "rule", "color": "#e5352b", "strokeWidth": 1.5}, "encoding": {"x": {"datum": 1.395, "type": "quantitative"}, "x2": {"datum": 1.56}, "y": {"datum": 170, "type": "quantitative"}}},
    {"data": {"values": [{}]}, "mark": {"type": "point", "shape": "circle", "filled": true, "color": "#000", "size": 20, "opacity": 1}, "encoding": {"x": {"datum": 1.478, "type": "quantitative"}, "y": {"datum": 170, "type": "quantitative"}}},
    {"data": {"values": [{}]}, "mark": {"type": "text", "text": "ZPc", "fontSize": 10.5, "align": "left", "baseline": "middle", "color": "#222"}, "encoding": {"x": {"datum": 1.64, "type": "quantitative"}, "y": {"datum": 170, "type": "quantitative"}}},
    {"data": {"values": [{}]}, "mark": {"type": "rule", "color": "#2b5ba8", "strokeWidth": 1.5}, "encoding": {"x": {"datum": 1.395, "type": "quantitative"}, "x2": {"datum": 1.56}, "y": {"datum": 89, "type": "quantitative"}}},
    {"data": {"values": [{}]}, "mark": {"type": "point", "shape": "square", "filled": true, "color": "#000", "size": 30, "opacity": 1}, "encoding": {"x": {"datum": 1.478, "type": "quantitative"}, "y": {"datum": 89, "type": "quantitative"}}},
    {"data": {"values": [{}]}, "mark": {"type": "text", "text": "BGo", "fontSize": 10.5, "align": "left", "baseline": "middle", "color": "#222"}, "encoding": {"x": {"datum": 1.64, "type": "quantitative"}, "y": {"datum": 89, "type": "quantitative"}}},
    {"data": {"values": [{}]}, "mark": {"type": "text", "text": "B", "fontSize": 17, "fontWeight": "bold", "align": "left", "baseline": "alphabetic", "color": "#000"}, "encoding": {"x": {"datum": -0.70, "type": "quantitative"}, "y": {"datum": 522, "type": "quantitative"}}}
   ]},
   {"width": 164, "height": 116, "view": {"stroke": "#1a1a1a", "strokeWidth": 1},
    "layer": [
     {"data": {"name": "inj"}, "mark": {"type": "rule", "color": "#a8a8a8", "strokeWidth": 2.5},
      "encoding": {"x": {"field": "t0", "type": "quantitative", "scale": {"domain": [-50, 750], "nice": false, "zero": false}, "axis": {"values": [0,100,200,300,400,500,600,700], "labelExpr": "datum.value % 200 === 0 ? datum.label : ''", "labelOverlap": false, "labelFlush": false, "domain": false, "title": null, "labelPadding": 1}},
       "x2": {"field": "t1"},
       "y": {"field": "y", "type": "quantitative", "scale": {"domain": [-5, 550], "nice": false, "zero": false}, "axis": {"values": [0,100,200,300,400,500], "labelExpr": "datum.value % 200 === 0 ? datum.label : ''", "labelOverlap": false, "domain": false, "title": "Response (RU)", "titlePadding": 9, "labelPadding": 1}}}},
     {"data": {"name": "base"}, "mark": {"type": "rule", "color": "#111", "strokeWidth": 1.6}, "encoding": {"x": {"field": "t0", "type": "quantitative"}, "x2": {"field": "t1"}, "y": {"field": "y", "type": "quantitative"}}},
     {"data": {"name": "zC"}, "mark": {"type": "line", "color": "#111", "strokeWidth": 1.6, "interpolate": "monotone"}, "encoding": {"x": {"field": "t", "type": "quantitative"}, "y": {"field": "r", "type": "quantitative"}, "detail": {"field": "k", "type": "nominal"}}},
     {"data": {"values": [{}]}, "mark": {"type": "text", "text": "C", "fontSize": 17, "fontWeight": "bold", "align": "left", "baseline": "alphabetic", "color": "#000"}, "encoding": {"x": {"datum": -450, "type": "quantitative"}, "y": {"datum": 550, "type": "quantitative"}}},
     {"data": {"values": [{}]}, "mark": {"type": "text", "text": "I33A", "fontSize": 15, "fontWeight": "bold", "align": "center", "baseline": "alphabetic", "color": "#333"}, "encoding": {"x": {"datum": -375, "type": "quantitative"}, "y": {"datum": 249, "type": "quantitative"}}}
    ]},
   {"width": 164, "height": 116, "view": {"stroke": "#1a1a1a", "strokeWidth": 1},
    "layer": [
     {"data": {"name": "inj"}, "mark": {"type": "rule", "color": "#a8a8a8", "strokeWidth": 2.5},
      "encoding": {"x": {"field": "t0", "type": "quantitative", "scale": {"domain": [-50, 750], "nice": false, "zero": false}, "axis": {"values": [0,100,200,300,400,500,600,700], "labelExpr": "datum.value % 200 === 0 ? datum.label : ''", "labelOverlap": false, "labelFlush": false, "domain": false, "title": null, "labelPadding": 1}},
       "x2": {"field": "t1"},
       "y": {"field": "y", "type": "quantitative", "scale": {"domain": [-5, 550], "nice": false, "zero": false}, "axis": {"values": [0,100,200,300,400,500], "labelExpr": "datum.value % 200 === 0 ? datum.label : ''", "labelOverlap": false, "domain": false, "title": null, "labelPadding": 1}}}},
     {"data": {"name": "base"}, "mark": {"type": "rule", "color": "#111", "strokeWidth": 1.6}, "encoding": {"x": {"field": "t0", "type": "quantitative"}, "x2": {"field": "t1"}, "y": {"field": "y", "type": "quantitative"}}},
     {"data": {"name": "oC"}, "mark": {"type": "line", "color": "#111", "strokeWidth": 1.6, "interpolate": "monotone"}, "encoding": {"x": {"field": "t", "type": "quantitative"}, "y": {"field": "r", "type": "quantitative"}, "detail": {"field": "k", "type": "nominal"}}}
    ]},
  {"width": 203, "height": 116, "view": {"stroke": null},
   "layer": [
    {"data": {"name": "fit"}, "transform": [{"filter": "datum.p === 'D'"}], "mark": {"type": "line", "strokeWidth": 1.5, "interpolate": "monotone"},
     "encoding": {"x": {"field": "x", "type": "quantitative", "scale": {"domain": [-0.39, 2.1], "nice": false, "zero": false}, "axis": {"values": [0,0.25,0.5,0.75,1,1.25,1.5,1.75,2], "labelExpr": "datum.value % 0.5 === 0 ? format(datum.value, '.1f') : ''", "labelOverlap": false, "labelFlush": false, "domain": false, "title": "[BGO or BGZP-C] (μM)", "titleX": 117, "titlePadding": 2, "titleFontSize": 9.2, "tickWidth": 1.5, "labelPadding": 2, "labelFontSize": 9.5}},
      "y": {"field": "y", "type": "quantitative", "scale": {"domain": [0, 418], "nice": false, "zero": false}, "axis": {"values": [0,100,200,300,400], "labelExpr": "datum.value % 200 === 0 ? datum.label : ''", "labelOverlap": false, "domain": false, "offset": -31.8, "title": "Equilibrium Response (RU)", "titlePadding": 6, "tickWidth": 1.5, "labelPadding": 1, "labelFontSize": 9.5}},
      "color": {"field": "s", "type": "nominal", "scale": {"domain": ["ZPc", "BGo"], "range": ["#e5352b", "#2b5ba8"]}, "legend": null}}},
    {"data": {"values": [{}]}, "mark": {"type": "rule", "color": "#000", "strokeWidth": 2}, "encoding": {"x": {"datum": 0, "type": "quantitative"}, "y": {"datum": 0, "type": "quantitative"}, "y2": {"datum": 400}}},
    {"data": {"values": [{}]}, "mark": {"type": "rule", "color": "#000", "strokeWidth": 2}, "encoding": {"x": {"datum": 0, "type": "quantitative"}, "x2": {"datum": 2.1}, "y": {"datum": 0, "type": "quantitative"}}},
    {"data": {"name": "pts"}, "transform": [{"filter": "datum.p === 'D'"}], "mark": {"type": "point", "filled": true, "color": "#000", "opacity": 1},
     "encoding": {"x": {"field": "x", "type": "quantitative"}, "y": {"field": "y", "type": "quantitative"},
      "shape": {"field": "s", "type": "nominal", "scale": {"domain": ["ZPc", "BGo"], "range": ["circle", "square"]}, "legend": null},
      "size": {"field": "s", "type": "nominal", "scale": {"domain": ["ZPc", "BGo"], "range": [20, 34]}, "legend": null}}},
    {"data": {"values": [{}]}, "mark": {"type": "rule", "color": "#e5352b", "strokeWidth": 1.5}, "encoding": {"x": {"datum": 1.2, "type": "quantitative"}, "x2": {"datum": 1.41}, "y": {"datum": 204, "type": "quantitative"}}},
    {"data": {"values": [{}]}, "mark": {"type": "point", "shape": "circle", "filled": true, "color": "#000", "size": 20, "opacity": 1}, "encoding": {"x": {"datum": 1.305, "type": "quantitative"}, "y": {"datum": 204, "type": "quantitative"}}},
    {"data": {"values": [{}]}, "mark": {"type": "text", "text": "ZPc", "fontSize": 10.5, "align": "left", "baseline": "middle", "color": "#222"}, "encoding": {"x": {"datum": 1.47, "type": "quantitative"}, "y": {"datum": 204, "type": "quantitative"}}},
    {"data": {"values": [{}]}, "mark": {"type": "rule", "color": "#2b5ba8", "strokeWidth": 1.5}, "encoding": {"x": {"datum": 1.2, "type": "quantitative"}, "x2": {"datum": 1.41}, "y": {"datum": 127, "type": "quantitative"}}},
    {"data": {"values": [{}]}, "mark": {"type": "point", "shape": "square", "filled": true, "color": "#000", "size": 30, "opacity": 1}, "encoding": {"x": {"datum": 1.305, "type": "quantitative"}, "y": {"datum": 127, "type": "quantitative"}}},
    {"data": {"values": [{}]}, "mark": {"type": "text", "text": "BGo", "fontSize": 10.5, "align": "left", "baseline": "middle", "color": "#222"}, "encoding": {"x": {"datum": 1.47, "type": "quantitative"}, "y": {"datum": 127, "type": "quantitative"}}},
    {"data": {"values": [{}]}, "mark": {"type": "text", "text": "D", "fontSize": 17, "fontWeight": "bold", "align": "left", "baseline": "alphabetic", "color": "#000"}, "encoding": {"x": {"datum": -0.70, "type": "quantitative"}, "y": {"datum": 414, "type": "quantitative"}}}
   ]},
   {"width": 164, "height": 116, "view": {"stroke": "#1a1a1a", "strokeWidth": 1},
    "layer": [
     {"data": {"name": "inj"}, "mark": {"type": "rule", "color": "#a8a8a8", "strokeWidth": 2.5},
      "encoding": {"x": {"field": "t0", "type": "quantitative", "scale": {"domain": [-50, 750], "nice": false, "zero": false}, "axis": {"values": [0,100,200,300,400,500,600,700], "labelExpr": "datum.value % 200 === 0 ? datum.label : ''", "labelOverlap": false, "labelFlush": false, "domain": false, "title": "Time (s)", "titlePadding": 4, "labelPadding": 1}},
       "x2": {"field": "t1"},
       "y": {"field": "y", "type": "quantitative", "scale": {"domain": [-5, 550], "nice": false, "zero": false}, "axis": {"values": [0,100,200,300,400,500], "labelExpr": "datum.value % 200 === 0 ? datum.label : ''", "labelOverlap": false, "domain": false, "title": "Response (RU)", "titlePadding": 9, "labelPadding": 1}}}},
     {"data": {"name": "base"}, "mark": {"type": "rule", "color": "#111", "strokeWidth": 1.6}, "encoding": {"x": {"field": "t0", "type": "quantitative"}, "x2": {"field": "t1"}, "y": {"field": "y", "type": "quantitative"}}},
     {"data": {"name": "zE"}, "mark": {"type": "line", "color": "#111", "strokeWidth": 1.6, "interpolate": "monotone"}, "encoding": {"x": {"field": "t", "type": "quantitative"}, "y": {"field": "r", "type": "quantitative"}, "detail": {"field": "k", "type": "nominal"}}},
     {"data": {"values": [{}]}, "mark": {"type": "text", "text": "E", "fontSize": 17, "fontWeight": "bold", "align": "left", "baseline": "alphabetic", "color": "#000"}, "encoding": {"x": {"datum": -450, "type": "quantitative"}, "y": {"datum": 536, "type": "quantitative"}}},
     {"data": {"values": [{}]}, "mark": {"type": "text", "text": "T87A", "fontSize": 15, "fontWeight": "bold", "align": "center", "baseline": "alphabetic", "color": "#333"}, "encoding": {"x": {"datum": -378, "type": "quantitative"}, "y": {"datum": 253, "type": "quantitative"}}}
    ]},
   {"width": 164, "height": 116, "view": {"stroke": "#1a1a1a", "strokeWidth": 1},
    "layer": [
     {"data": {"name": "inj"}, "mark": {"type": "rule", "color": "#a8a8a8", "strokeWidth": 2.5},
      "encoding": {"x": {"field": "t0", "type": "quantitative", "scale": {"domain": [-50, 750], "nice": false, "zero": false}, "axis": {"values": [0,100,200,300,400,500,600,700], "labelExpr": "datum.value % 200 === 0 ? datum.label : ''", "labelOverlap": false, "labelFlush": false, "domain": false, "title": "Time (s)", "titlePadding": 4, "labelPadding": 1}},
       "x2": {"field": "t1"},
       "y": {"field": "y", "type": "quantitative", "scale": {"domain": [-5, 550], "nice": false, "zero": false}, "axis": {"values": [0,100,200,300,400,500], "labelExpr": "datum.value % 200 === 0 ? datum.label : ''", "labelOverlap": false, "domain": false, "title": null, "labelPadding": 1}}}},
     {"data": {"name": "base"}, "mark": {"type": "rule", "color": "#111", "strokeWidth": 1.6}, "encoding": {"x": {"field": "t0", "type": "quantitative"}, "x2": {"field": "t1"}, "y": {"field": "y", "type": "quantitative"}}},
     {"data": {"name": "oE"}, "mark": {"type": "line", "color": "#111", "strokeWidth": 1.6, "interpolate": "monotone"}, "encoding": {"x": {"field": "t", "type": "quantitative"}, "y": {"field": "r", "type": "quantitative"}, "detail": {"field": "k", "type": "nominal"}}}
    ]},
  {"width": 203, "height": 116, "view": {"stroke": null},
   "layer": [
    {"data": {"name": "fit"}, "transform": [{"filter": "datum.p === 'F'"}], "mark": {"type": "line", "strokeWidth": 1.5, "interpolate": "monotone"},
     "encoding": {"x": {"field": "x", "type": "quantitative", "scale": {"domain": [-0.39, 2.1], "nice": false, "zero": false}, "axis": {"values": [0,0.25,0.5,0.75,1,1.25,1.5,1.75,2], "labelExpr": "datum.value % 0.5 === 0 ? format(datum.value, '.1f') : ''", "labelOverlap": false, "labelFlush": false, "domain": false, "title": "[BGO or BGZP-C] (μM)", "titleX": 117, "titlePadding": 2, "titleFontSize": 9.2, "tickWidth": 1.5, "labelPadding": 2, "labelFontSize": 9.5}},
      "y": {"field": "y", "type": "quantitative", "scale": {"domain": [0, 418], "nice": false, "zero": false}, "axis": {"values": [0,100,200,300,400], "labelExpr": "datum.value % 200 === 0 ? datum.label : ''", "labelOverlap": false, "domain": false, "offset": -31.8, "title": "Equilibrium Response (RU)", "titlePadding": 6, "tickWidth": 1.5, "labelPadding": 1, "labelFontSize": 9.5}},
      "color": {"field": "s", "type": "nominal", "scale": {"domain": ["ZPc", "BGo"], "range": ["#e5352b", "#2b5ba8"]}, "legend": null}}},
    {"data": {"values": [{}]}, "mark": {"type": "rule", "color": "#000", "strokeWidth": 2}, "encoding": {"x": {"datum": 0, "type": "quantitative"}, "y": {"datum": 0, "type": "quantitative"}, "y2": {"datum": 400}}},
    {"data": {"values": [{}]}, "mark": {"type": "rule", "color": "#000", "strokeWidth": 2}, "encoding": {"x": {"datum": 0, "type": "quantitative"}, "x2": {"datum": 2.1}, "y": {"datum": 0, "type": "quantitative"}}},
    {"data": {"name": "pts"}, "transform": [{"filter": "datum.p === 'F'"}], "mark": {"type": "point", "filled": true, "color": "#000", "opacity": 1},
     "encoding": {"x": {"field": "x", "type": "quantitative"}, "y": {"field": "y", "type": "quantitative"},
      "shape": {"field": "s", "type": "nominal", "scale": {"domain": ["ZPc", "BGo"], "range": ["circle", "square"]}, "legend": null},
      "size": {"field": "s", "type": "nominal", "scale": {"domain": ["ZPc", "BGo"], "range": [20, 34]}, "legend": null}}},
    {"data": {"values": [{}]}, "mark": {"type": "rule", "color": "#e5352b", "strokeWidth": 1.5}, "encoding": {"x": {"datum": 1.27, "type": "quantitative"}, "x2": {"datum": 1.46}, "y": {"datum": 132, "type": "quantitative"}}},
    {"data": {"values": [{}]}, "mark": {"type": "point", "shape": "circle", "filled": true, "color": "#000", "size": 20, "opacity": 1}, "encoding": {"x": {"datum": 1.365, "type": "quantitative"}, "y": {"datum": 132, "type": "quantitative"}}},
    {"data": {"values": [{}]}, "mark": {"type": "text", "text": "ZPc", "fontSize": 10.5, "align": "left", "baseline": "middle", "color": "#222"}, "encoding": {"x": {"datum": 1.52, "type": "quantitative"}, "y": {"datum": 132, "type": "quantitative"}}},
    {"data": {"values": [{}]}, "mark": {"type": "rule", "color": "#2b5ba8", "strokeWidth": 1.5}, "encoding": {"x": {"datum": 1.27, "type": "quantitative"}, "x2": {"datum": 1.46}, "y": {"datum": 66, "type": "quantitative"}}},
    {"data": {"values": [{}]}, "mark": {"type": "point", "shape": "square", "filled": true, "color": "#000", "size": 30, "opacity": 1}, "encoding": {"x": {"datum": 1.365, "type": "quantitative"}, "y": {"datum": 66, "type": "quantitative"}}},
    {"data": {"values": [{}]}, "mark": {"type": "text", "text": "BGo", "fontSize": 10.5, "align": "left", "baseline": "middle", "color": "#222"}, "encoding": {"x": {"datum": 1.52, "type": "quantitative"}, "y": {"datum": 66, "type": "quantitative"}}},
    {"data": {"values": [{}]}, "mark": {"type": "text", "text": "F", "fontSize": 17, "fontWeight": "bold", "align": "left", "baseline": "alphabetic", "color": "#000"}, "encoding": {"x": {"datum": -0.675, "type": "quantitative"}, "y": {"datum": 407, "type": "quantitative"}}}
   ]}
]
}
